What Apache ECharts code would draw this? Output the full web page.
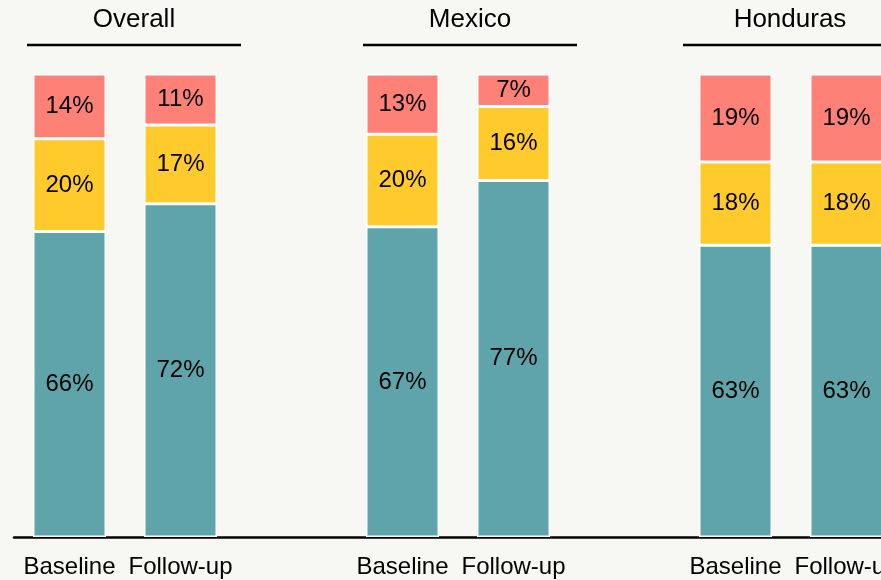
<!DOCTYPE html>
<html>
<head>
<meta charset="utf-8">
<script src="https://cdn.jsdelivr.net/npm/echarts@6/dist/echarts.min.js"></script>
<style>
html,body{margin:0;padding:0;background:#f7f7f3;overflow:hidden;width:881px;height:580px;}
#c{width:910px;height:580px;}
</style>
</head>
<body>
<div id="c"></div>
<script>
var categories = ['Baseline','Follow-up','','Baseline','Follow-up','','Baseline','Follow-up'];
var groups = ['Overall','Mexico','Honduras'];
var groupFirstIndex = [0, 3, 6];
var groupTitleShift = [9, 12, -1];
var good = [66, 72, '-', 67, 77, '-', 63, 63];
var fair = [20, 17, '-', 20, 16, '-', 18, 18];
var poor = [14, 11, '-', 13, 7, '-', 19, 19];

var FONT = '"Liberation Sans", Arial, Helvetica, sans-serif';
var chart = echarts.init(document.getElementById('c'), null, {renderer:'canvas'});

function mk(name, data, color){
  return {
    name: name, type: 'bar', stack: 'all', data: data, barWidth: 73,
    itemStyle: {color: color, borderColor: '#ffffff', borderWidth: 1.5},
    label: {show: true, position: 'inside', formatter: '{c}%', color: '#000', fontSize: 24, fontFamily: FONT},
    emphasis: {disabled: true}
  };
}

chart.setOption({
  backgroundColor: '#f7f7f3',
  animation: false,
  grid: {left: 14, top: 74, bottom: 43, width: 888, containLabel: false},
  xAxis: {
    type: 'category', data: categories,
    axisLine: {show: true, lineStyle: {color: '#000', width: 2.5}},
    axisTick: {show: false},
    axisLabel: {color: '#000', fontSize: 24, fontFamily: FONT, margin: 18, interval: 0}
  },
  yAxis: {type: 'value', min: 0, max: 100, show: false, splitLine: {show: false}},
  series: [
    mk('Good', good, '#5fa4aa'),
    mk('Fair', fair, '#ffca2b'),
    mk('Poor', poor, '#fe8177')
  ]
});

var graphics = [];
groups.forEach(function(g, i){
  var a = chart.convertToPixel({xAxisIndex: 0}, groupFirstIndex[i]);
  var b = chart.convertToPixel({xAxisIndex: 0}, groupFirstIndex[i] + 1);
  var cx = (a + b) / 2 + groupTitleShift[i];
  graphics.push({
    type: 'text', x: cx, y: 20,
    style: {text: g, fill: '#000', font: '26px ' + FONT, textAlign: 'center', textVerticalAlign: 'middle'}
  });
  graphics.push({
    type: 'line',
    shape: {x1: cx - 107, y1: 45, x2: cx + 107, y2: 45},
    style: {stroke: '#000', lineWidth: 2.5}
  });
});
chart.setOption({graphic: graphics});
</script>
</body>
</html>
